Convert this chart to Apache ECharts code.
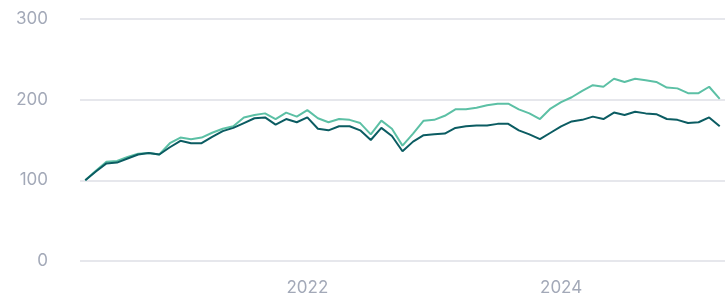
<!DOCTYPE html>
<html>
<head>
<meta charset="utf-8">
<script src="https://cdn.jsdelivr.net/npm/echarts@6/dist/echarts.min.js"></script>
<style>
  html, body { margin: 0; padding: 0; background: #fff; }
  #chart { width: 725px; height: 296px; }
</style>
</head>
<body>
<div id="chart"></div>
<script>
// monthly, Apr 2020 .. Apr 2025
var months = [];
for (var y = 2020, m = 4; months.length < 61; m++) {
  if (m > 12) { m = 1; y++; }
  months.push(y + '-' + (m < 10 ? '0' + m : m));
}
var yTicks = [0, 100, 200, 300];

var lightLine = [100, 112, 123, 124, 129, 133, 134, 132, 146, 153,
  151, 153, 159, 164, 167, 178, 181, 183, 176, 184,
  179, 187, 177, 172, 176, 175, 171, 157, 174, 164,
  143, 158, 174, 175, 180, 188, 188, 190, 193, 195,
  195, 188, 183, 176, 189, 197, 203, 211, 218, 216,
  226, 222, 226, 224, 222, 215, 214, 208, 208, 216,
  201];
var darkLine = [100, 111, 121, 122, 127, 132, 134, 132, 141, 149,
  146, 146, 154, 161, 165, 171, 177, 178, 169, 176,
  172, 178, 164, 162, 167, 167, 162, 150, 165, 155,
  136, 148, 156, 157, 158, 165, 167, 168, 168, 170,
  170, 162, 157, 151, 159, 167, 173, 175, 179, 176,
  184, 181, 185, 183, 182, 176, 175, 171, 172, 178,
  167];

var chart = echarts.init(document.getElementById('chart'));
var option = {
  animation: false,
  grid: { left: 80, right: 0, top: 19, bottom: 35 },
  xAxis: {
    type: 'category',
    data: months,
    boundaryGap: true,
    axisLine: { show: false },
    axisTick: { show: false },
    axisLabel: {
      interval: function (i, v) { return v === '2022-01' || v === '2024-01'; },
      formatter: function (v) { return v.slice(0, 4); },
      color: '#a3a9b8',
      fontFamily: 'Inter',
      fontSize: 17,
      margin: 18
    }
  },
  yAxis: {
    type: 'value',
    min: yTicks[0],
    max: yTicks[yTicks.length - 1],
    interval: 100,
    axisLabel: {
      color: '#a3a9b8',
      fontFamily: 'Inter',
      fontSize: 17,
      margin: 32
    },
    splitLine: { lineStyle: { color: '#e6e7ec', width: 2 } }
  },
  series: [
    {
      type: 'line',
      data: lightLine,
      symbol: 'none',
      lineStyle: { color: '#5cc0a5', width: 2 }
    },
    {
      type: 'line',
      data: darkLine,
      symbol: 'none',
      lineStyle: { color: '#0b5c62', width: 2 }
    }
  ]
};
chart.setOption(option);
</script>
</body>
</html>
